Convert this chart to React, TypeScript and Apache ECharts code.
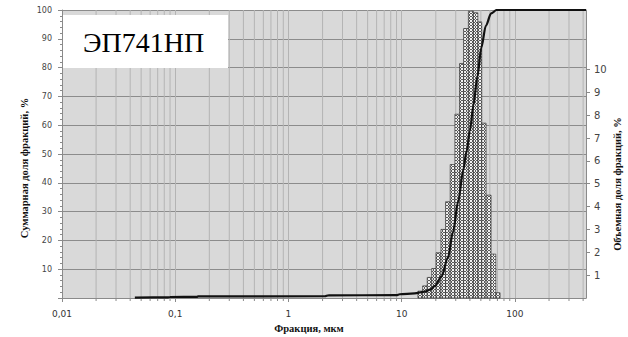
import React, { useEffect, useRef } from "react";
import * as echarts from "echarts";

// ---- data ----
const xTickLabels = ["0,01", "0,1", "1", "10", "100"];
const leftTicks = [10, 20, 30, 40, 50, 60, 70, 80, 90, 100];
const rightTicks = [1, 2, 3, 4, 5, 6, 7, 8, 9, 10];

// histogram bins (μm) and volume fraction (%)
const binEdges = [13.9, 15.3, 16.8, 18.4, 20.1, 22.2, 24.4, 26.8, 29.5, 32.4, 35.2, 38.8, 43.0, 47.0, 50.9, 55.6, 61.5, 67.7, 73.9];
const binValues = [0.3, 0.53, 0.9, 1.29, 1.98, 3.0, 4.21, 5.84, 8.04, 10.26, 11.79, 12.55, 12.48, 12.08, 7.65, 4.5, 1.92, 0.23];

// cumulative curve
const curveX = [0.044, 0.085, 0.09, 0.155, 0.16, 2.1, 2.25, 9.0, 9.6, 13.0, 16.0, 18.0, 19.7, 22.4, 25.6, 28.4, 31.5, 35.0, 37.4, 40.0, 43.0, 46.6, 50.5, 55.3, 61.6, 68.9, 424];
const curveY = [0.15, 0.2, 0.35, 0.4, 0.55, 0.6, 0.9, 1.0, 1.3, 1.6, 2.2, 3.0, 4.2, 7.4, 14.0, 23.0, 33.5, 44.5, 51.0, 58.0, 67.0, 77.0, 87.0, 94.5, 98.8, 100, 100];

// minor logarithmic grid positions
const minorGridX = [
  0.02, 0.03, 0.04, 0.05, 0.06, 0.07, 0.08, 0.09,
  0.2, 0.3, 0.4, 0.5, 0.6, 0.7, 0.8, 0.9,
  2, 3, 4, 5, 6, 7, 8, 9,
  20, 30, 40, 50, 60, 70, 80, 90,
  200, 300, 400,
];

function makePattern(): HTMLCanvasElement {
  const c = document.createElement("canvas");
  c.width = 3;
  c.height = 3;
  const ctx = c.getContext("2d")!;
  ctx.fillStyle = "#f2f2f2";
  ctx.fillRect(0, 0, 3, 3);
  ctx.fillStyle = "#5a5a5a";
  ctx.fillRect(1, 0, 1, 1);
  ctx.fillRect(0, 1, 1, 1);
  ctx.fillRect(2, 1, 1, 1);
  ctx.fillRect(1, 2, 1, 1);
  return c;
}

export default function App() {
  const ref = useRef<HTMLDivElement>(null);

  useEffect(() => {
    if (!ref.current) return;
    const chart = echarts.init(ref.current, undefined, { renderer: "svg" });
    const pattern = makePattern();
    const fillPattern: any = { image: pattern, repeat: "repeat", imageWidth: 3, imageHeight: 3 };

    const barData = binValues.map((v, i) => [binEdges[i], binEdges[i + 1], v]);
    const curveData = curveX.map((x, i) => [x, curveY[i]]);
    const gridData = minorGridX.map((x) => [x, 0]);

    const xFormatter = (val: number) => {
      const lg = Math.log10(val);
      const e = Math.round(lg);
      if (Math.abs(lg - e) > 0.01 || e < -2 || e > 2) return "";
      return xTickLabels[e + 2];
    };

    const axisGray = "#8a8a8a";
    const option: any = {
      animation: false,
      grid: {
        left: 62,
        right: 42,
        top: 10,
        bottom: 39,
        show: true,
        backgroundColor: "#d9d9d9",
        borderWidth: 0,
      },
      xAxis: {
        type: "log",
        logBase: 10,
        min: 0.01,
        max: 424,
        axisLine: { show: true, onZero: false, lineStyle: { color: axisGray } },
        axisTick: { show: true, length: 4, lineStyle: { color: axisGray } },
        axisLabel: {
          formatter: xFormatter,
          fontFamily: "DejaVu Sans",
          fontSize: 9,
          color: "#333",
          margin: 11,
          showMaxLabel: false,
        },
        splitLine: { show: true, lineStyle: { color: "#b4b4b4", width: 1 } },
      },
      yAxis: [
        {
          type: "value",
          position: "left",
          min: 0,
          max: 100,
          interval: 10,
          axisLine: { show: true, onZero: false, lineStyle: { color: axisGray } },
          axisTick: { show: true, length: 4, lineStyle: { color: axisGray } },
          minorTick: { show: true, splitNumber: 5, length: 2, lineStyle: { color: axisGray } },
          axisLabel: {
            customValues: leftTicks,
            formatter: (v: number) => (v >= 10 ? String(v) : ""),
            fontFamily: "DejaVu Sans",
            fontSize: 8,
            color: "#444",
            margin: 10,
          },
          splitLine: { show: true, lineStyle: { color: "#8c8c8c", width: 1 } },
        },
        {
          type: "value",
          position: "right",
          min: 0,
          max: 12.6,
          interval: 1,
          axisLine: { show: true, onZero: false, lineStyle: { color: axisGray } },
          axisTick: { show: true, length: 4, customValues: rightTicks, lineStyle: { color: axisGray } },
          axisLabel: {
            customValues: rightTicks,
            formatter: (v: number) => (v >= 1 && v <= 10 ? String(v) : ""),
            fontFamily: "DejaVu Sans",
            fontSize: 10,
            color: "#444",
            margin: 8,
          },
          splitLine: { show: false },
        },
      ],
      series: [
        {
          type: "custom",
          name: "minorGrid",
          xAxisIndex: 0,
          yAxisIndex: 0,
          clip: false,
          silent: true,
          z: 1,
          data: gridData,
          encode: { x: 0, y: 1 },
          renderItem: (params: any, api: any) => {
            const x = api.value(0);
            const top = api.coord([x, 100]);
            const bot = api.coord([x, 0]);
            return {
              type: "group",
              children: [
                {
                  type: "line",
                  shape: { x1: top[0], y1: top[1], x2: bot[0], y2: bot[1] },
                  style: { stroke: "#b4b4b4", lineWidth: 1 },
                },
                {
                  type: "line",
                  shape: { x1: bot[0], y1: bot[1], x2: bot[0], y2: bot[1] + 3 },
                  style: { stroke: axisGray, lineWidth: 1 },
                },
              ],
            };
          },
        },
        {
          type: "custom",
          name: "fraction",
          xAxisIndex: 0,
          yAxisIndex: 1,
          silent: true,
          z: 3,
          data: barData,
          encode: { x: [0, 1], y: 2 },
          renderItem: (params: any, api: any) => {
            const p0 = api.coord([api.value(0), api.value(2)]);
            const p1 = api.coord([api.value(1), 0]);
            return {
              type: "rect",
              shape: { x: p0[0], y: p0[1], width: p1[0] - p0[0], height: p1[1] - p0[1] },
              style: { fill: fillPattern, stroke: "#333", lineWidth: 0.7 },
            };
          },
        },
        {
          type: "line",
          name: "cumulative",
          xAxisIndex: 0,
          yAxisIndex: 0,
          z: 4,
          data: curveData,
          showSymbol: false,
          symbol: "none",
          smooth: 0.3,
          smoothMonotone: "x",
          lineStyle: { color: "#111", width: 2.2 },
        },
      ],
      graphic: [
        {
          type: "rect",
          z: 100,
          shape: { x: 63, y: 15, width: 165, height: 53 },
          style: { fill: "#ffffff" },
        },
        {
          type: "text",
          z: 101,
          x: 83,
          y: 42,
          style: {
            text: "ЭП741НП",
            fontFamily: "Liberation Serif",
            fontSize: 28,
            fill: "#000",
            verticalAlign: "middle",
            align: "left",
          },
        },
        {
          type: "text",
          z: 101,
          x: 24,
          y: 168,
          rotation: Math.PI / 2,
          style: {
            text: "Суммарная доля фракций, %",
            fontFamily: "Liberation Serif",
            fontWeight: "bold",
            fontSize: 10.5,
            fill: "#111",
            align: "center",
            verticalAlign: "middle",
          },
        },
        {
          type: "text",
          z: 101,
          x: 617,
          y: 184,
          rotation: Math.PI / 2,
          style: {
            text: "Объемная доля фракций, %",
            fontFamily: "Liberation Serif",
            fontWeight: "bold",
            fontSize: 10.5,
            fill: "#111",
            align: "center",
            verticalAlign: "middle",
          },
        },
        {
          type: "text",
          z: 101,
          x: 309,
          y: 328,
          style: {
            text: "Фракция, мкм",
            fontFamily: "Liberation Serif",
            fontWeight: "bold",
            fontSize: 10.5,
            fill: "#111",
            align: "center",
            verticalAlign: "middle",
          },
        },
      ],
    };

    chart.setOption(option);
    return () => chart.dispose();
  }, []);

  return (
    <div
      ref={ref}
      style={{ width: 628, height: 337, position: "absolute", left: 0, top: 0, background: "#fff" }}
    />
  );
}
